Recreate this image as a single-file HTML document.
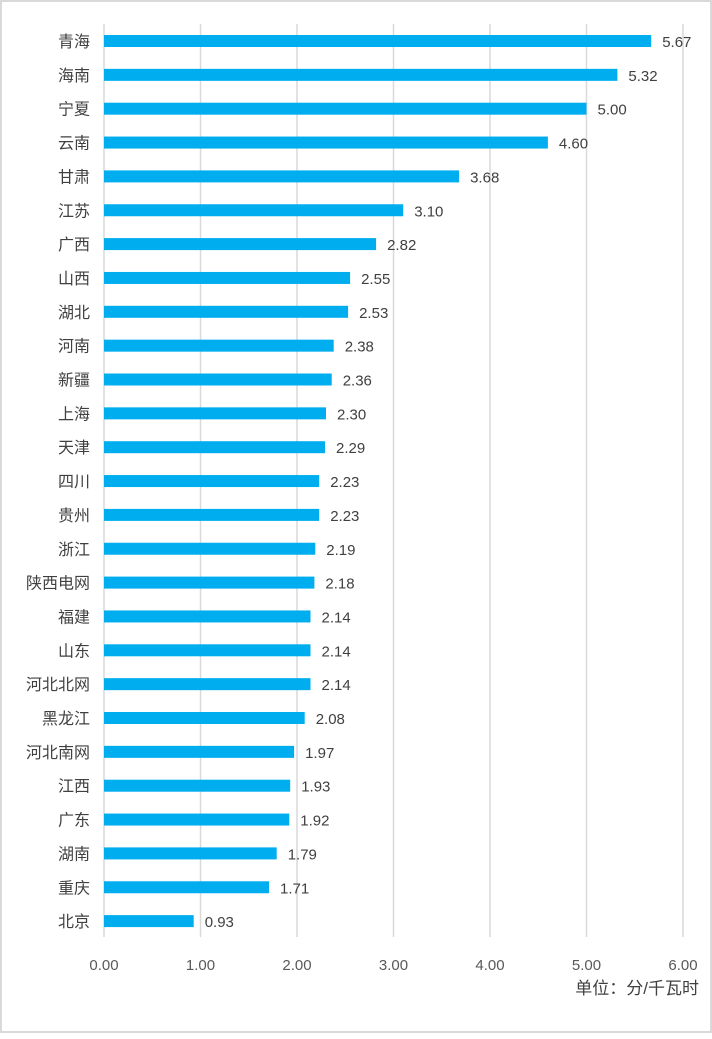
<!DOCTYPE html>
<html><head><meta charset="utf-8"><style>
body{margin:0;background:#fff}
</style></head><body>
<svg width="712" height="1034" xmlns="http://www.w3.org/2000/svg" font-family="'Liberation Sans','Noto Sans CJK SC',sans-serif">
<rect x="1" y="1" width="710" height="1031" fill="#fff" stroke="#d9d9d9" stroke-width="2"/>
<g stroke="#d9d9d9" stroke-width="1.5">
<line x1="104" y1="24" x2="104" y2="937"/>
<line x1="200.5" y1="24" x2="200.5" y2="937"/>
<line x1="297" y1="24" x2="297" y2="937"/>
<line x1="393.5" y1="24" x2="393.5" y2="937"/>
<line x1="490" y1="24" x2="490" y2="937"/>
<line x1="586.5" y1="24" x2="586.5" y2="937"/>
<line x1="683" y1="24" x2="683" y2="937"/>
</g>
<g fill="#00aeef">
<rect x="104" y="35" width="547.2" height="12"/>
<rect x="104" y="68.85" width="513.4" height="12"/>
<rect x="104" y="102.7" width="482.5" height="12"/>
<rect x="104" y="136.55" width="443.9" height="12"/>
<rect x="104" y="170.4" width="355.1" height="12"/>
<rect x="104" y="204.25" width="299.2" height="12"/>
<rect x="104" y="238.1" width="272.1" height="12"/>
<rect x="104" y="271.95" width="246.1" height="12"/>
<rect x="104" y="305.8" width="244.1" height="12"/>
<rect x="104" y="339.65" width="229.7" height="12"/>
<rect x="104" y="373.5" width="227.7" height="12"/>
<rect x="104" y="407.35" width="222" height="12"/>
<rect x="104" y="441.2" width="221" height="12"/>
<rect x="104" y="475.05" width="215.2" height="12"/>
<rect x="104" y="508.9" width="215.2" height="12"/>
<rect x="104" y="542.75" width="211.3" height="12"/>
<rect x="104" y="576.6" width="210.4" height="12"/>
<rect x="104" y="610.45" width="206.5" height="12"/>
<rect x="104" y="644.3" width="206.5" height="12"/>
<rect x="104" y="678.15" width="206.5" height="12"/>
<rect x="104" y="712" width="200.7" height="12"/>
<rect x="104" y="745.85" width="190.1" height="12"/>
<rect x="104" y="779.7" width="186.2" height="12"/>
<rect x="104" y="813.55" width="185.3" height="12"/>
<rect x="104" y="847.4" width="172.7" height="12"/>
<rect x="104" y="881.25" width="165" height="12"/>
<rect x="104" y="915.1" width="89.7" height="12"/>
</g>
<g font-size="16" fill="#404040" text-anchor="end">
<text x="90" y="47">青海</text>
<text x="90" y="80.85">海南</text>
<text x="90" y="114.7">宁夏</text>
<text x="90" y="148.55">云南</text>
<text x="90" y="182.4">甘肃</text>
<text x="90" y="216.25">江苏</text>
<text x="90" y="250.1">广西</text>
<text x="90" y="283.95">山西</text>
<text x="90" y="317.8">湖北</text>
<text x="90" y="351.65">河南</text>
<text x="90" y="385.5">新疆</text>
<text x="90" y="419.35">上海</text>
<text x="90" y="453.2">天津</text>
<text x="90" y="487.05">四川</text>
<text x="90" y="520.9">贵州</text>
<text x="90" y="554.75">浙江</text>
<text x="90" y="588.6">陕西电网</text>
<text x="90" y="622.45">福建</text>
<text x="90" y="656.3">山东</text>
<text x="90" y="690.15">河北北网</text>
<text x="90" y="724">黑龙江</text>
<text x="90" y="757.85">河北南网</text>
<text x="90" y="791.7">江西</text>
<text x="90" y="825.55">广东</text>
<text x="90" y="859.4">湖南</text>
<text x="90" y="893.25">重庆</text>
<text x="90" y="927.1">北京</text>
</g>
<g font-size="15" fill="#404040">
<text x="662.2" y="47">5.67</text>
<text x="628.4" y="80.85">5.32</text>
<text x="597.5" y="114.7">5.00</text>
<text x="558.9" y="148.55">4.60</text>
<text x="470.1" y="182.4">3.68</text>
<text x="414.2" y="216.25">3.10</text>
<text x="387.1" y="250.1">2.82</text>
<text x="361.1" y="283.95">2.55</text>
<text x="359.1" y="317.8">2.53</text>
<text x="344.7" y="351.65">2.38</text>
<text x="342.7" y="385.5">2.36</text>
<text x="337" y="419.35">2.30</text>
<text x="336" y="453.2">2.29</text>
<text x="330.2" y="487.05">2.23</text>
<text x="330.2" y="520.9">2.23</text>
<text x="326.3" y="554.75">2.19</text>
<text x="325.4" y="588.6">2.18</text>
<text x="321.5" y="622.45">2.14</text>
<text x="321.5" y="656.3">2.14</text>
<text x="321.5" y="690.15">2.14</text>
<text x="315.7" y="724">2.08</text>
<text x="305.1" y="757.85">1.97</text>
<text x="301.2" y="791.7">1.93</text>
<text x="300.3" y="825.55">1.92</text>
<text x="287.7" y="859.4">1.79</text>
<text x="280" y="893.25">1.71</text>
<text x="204.7" y="927.1">0.93</text>
</g>
<g font-size="15" fill="#595959" text-anchor="middle">
<text x="104" y="970">0.00</text><text x="200.5" y="970">1.00</text><text x="297" y="970">2.00</text><text x="393.5" y="970">3.00</text><text x="490" y="970">4.00</text><text x="586.5" y="970">5.00</text><text x="683" y="970">6.00</text>
</g>
<text x="699" y="994" font-size="17" fill="#404040" text-anchor="end">单位：分/千瓦时</text>
</svg>
</body></html>
